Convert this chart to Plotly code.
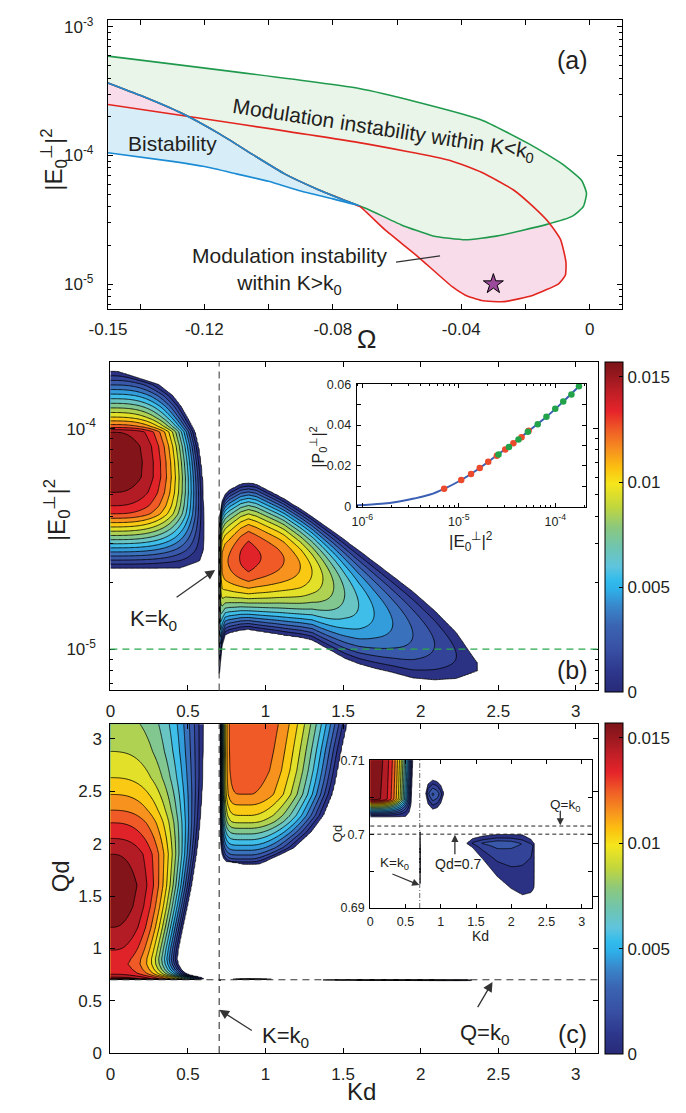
import numpy as np
import plotly.graph_objects as go
from plotly.colors import sample_colorscale

FIG_W, FIG_H = 686, 1113
FONT = "Liberation Sans, Arial, Helvetica, sans-serif"
INK = "#231f20"

# ---------------- panel (a): regions in the (Omega, |E0|^2) plane ----------------
BLUE_LOWER_OMEGA = [-0.150, -0.130, -0.120, -0.110, -0.100, -0.090, -0.080, -0.0715]
BLUE_LOWER_E = [1.05e-4, 9.0e-5, 8.2e-5, 7.2e-5, 6.3e-5, 5.3e-5, 4.6e-5, 4.05e-5]

TURN_OMEGA = [-0.150, -0.140, -0.127, -0.115, -0.105, -0.095, -0.085, -0.0739]
TURN_E = [3.67e-4, 2.94e-4, 2.13e-4, 1.46e-4, 1.02e-4, 7.2e-5, 5.5e-5, 4.25e-5]

RED_UPPER_OMEGA = [-0.150, -0.0718, -0.0437, -0.0337, -0.0236, -0.0176, -0.0126, -0.0091, -0.0074]
RED_UPPER_E = [2.49e-4, 1.26e-4, 9.2e-5, 7.4e-5, 5.37e-5, 4.0e-5, 2.99e-5, 2.23e-5, 1.48e-5]
RED_LOWER_OMEGA = [-0.0076, -0.0096, -0.0176, -0.0267, -0.0337, -0.0387, -0.0427, -0.0538, -0.0638, -0.0715]
RED_LOWER_E = [1.17e-5, 1.01e-5, 8.2e-6, 7.3e-6, 7.46e-6, 8.2e-6, 9.5e-6, 1.66e-5, 2.65e-5, 4.0e-5]

GREEN_UPPER_OMEGA = [-0.150, -0.0718, -0.0538, -0.0337, -0.0186, -0.0086, -0.0025, -0.0010]
GREEN_UPPER_E = [5.93e-4, 3.32e-4, 2.61e-4, 1.89e-4, 1.22e-4, 8.6e-5, 6.4e-5, 5.07e-5]
GREEN_LOWER_OMEGA = [-0.0020, -0.0055, -0.0136, -0.0287, -0.0387, -0.0488, -0.0588, -0.0689, -0.0739]
GREEN_LOWER_E = [4.0e-5, 3.36e-5, 2.9e-5, 2.37e-5, 2.21e-5, 2.37e-5, 2.9e-5, 3.8e-5, 4.25e-5]

STAR_OMEGA = [-0.030]
STAR_E = [1.0e-5]

# ---------------- panel (b): growth rate over (Kd, |E0|^2) ----------------
# lobe attached to Kd = 0 : amplitude on the Kd = 0 axis and zero-crossing half width
BL_LOGE = [-4.70, -4.633, -4.60, -4.55, -4.50, -4.45, -4.387, -4.35, -4.29, -4.22, -4.15,
           -4.08, -4.015, -3.99, -3.95, -3.90, -3.85, -3.80, -3.74, -3.70]
BL_AMP = [-0.005, 0.0, 0.0018, 0.0045, 0.0072, 0.0098, 0.0130, 0.0140, 0.0150, 0.0156, 0.0157,
          0.0156, 0.0150, 0.0125, 0.0101, 0.0077, 0.0053, 0.0029, 0.0, -0.003]
BL_HALFW = [0.45, 0.45, 0.575, 0.598, 0.60, 0.60, 0.599, 0.598, 0.596, 0.59, 0.58,
            0.565, 0.543, 0.525, 0.495, 0.455, 0.40, 0.31, 0.05, 0.05]

# lobe beyond K = k0 : ridge value, ridge position and upper / lower edges (log10 |E0|^2)
BR_K = [0.690, 0.700, 0.703, 0.710, 0.720, 0.740, 0.767, 0.840, 0.890, 0.940, 1.080, 1.120, 1.225,
        1.300, 1.370, 1.440, 1.510, 1.600, 1.700, 1.820, 1.950, 2.090, 2.230, 2.365, 2.500]
BR_AMP = [-0.004, 0.0, 0.005, 0.0095, 0.0112, 0.0118, 0.0121, 0.0131, 0.0136, 0.0132, 0.0123, 0.0120,
          0.0110, 0.0100, 0.0090, 0.0080, 0.0070, 0.0060, 0.0050, 0.0040, 0.0030, 0.0020, 0.0010, 0.0, -0.002]
BR_TOP = [-4.40, -4.40, -4.40, -4.377, -4.33, -4.30, -4.28, -4.253, -4.248, -4.254, -4.305, -4.32, -4.366,
          -4.40, -4.436, -4.47, -4.506, -4.553, -4.606, -4.67, -4.74, -4.826, -4.925, -5.06, -5.06]
BR_RIDGE = [-4.60, -4.60, -4.60, -4.60, -4.60, -4.60, -4.60, -4.585, -4.58, -4.582, -4.59, -4.595, -4.625,
            -4.65, -4.68, -4.715, -4.75, -4.80, -4.84, -4.885, -4.935, -4.98, -5.03, -5.08, -5.08]
BR_BOT = [-5.11, -5.11, -5.11, -5.055, -4.983, -4.935, -4.925, -4.912, -4.909, -4.915, -4.93, -4.935, -4.945,
          -4.957, -4.985, -5.012, -5.04, -5.065, -5.085, -5.105, -5.13, -5.139, -5.133, -5.10, -5.10]

# inset of (b): |P0|^2 against |E0|^2
INSET_E = [8.8e-7, 1.58e-6, 2.33e-6, 3.43e-6, 5.05e-6, 7.05e-6, 1.06e-5, 1.65e-5, 2.48e-5,
           3.68e-5, 5.2e-5, 8.1e-5, 1.21e-4, 1.76e-4]
INSET_P = [0.0007, 0.0015, 0.0025, 0.0040, 0.0060, 0.0088, 0.0131, 0.0190, 0.0252,
           0.0311, 0.0368, 0.0441, 0.0515, 0.0590]
RED_DOT_E = [7.05e-6, 1.06e-5, 1.34e-5, 1.65e-5, 2.02e-5, 2.48e-5, 3.03e-5, 3.68e-5, 4.47e-5, 5.3e-5]
RED_DOT_P = [0.0088, 0.0131, 0.0160, 0.0190, 0.0221, 0.0250, 0.0280, 0.0311, 0.0341, 0.0372]
GREEN_DOT_E = [2.58e-5, 3.31e-5, 4.16e-5, 5.2e-5, 6.58e-5, 8.1e-5, 1.0e-4, 1.21e-4, 1.47e-4, 1.76e-4]
GREEN_DOT_P = [0.0256, 0.0293, 0.0330, 0.0367, 0.0404, 0.0441, 0.0480, 0.0515, 0.0550, 0.0590]

E_MARK = 1.0e-5          # |E0|^2 of the star in (a) and of panel (c)
K0D = 0.7011             # k0 d
QD_CUT = 0.700

# ---------------- panel (c): growth rate over (Kd, Qd) ----------------
CL_Q = [0.690, 0.7024, 0.7030, 0.7040, 0.7047, 0.710, 0.720, 0.740, 0.760, 0.800, 0.850, 0.900,
        1.000, 1.200, 1.400, 1.600, 1.900, 2.050, 2.200, 2.320, 2.470, 2.630, 2.880, 3.200]
CL_AMP = [-0.004, 0.0, 0.0040, 0.0105, 0.0153, 0.0155, 0.0152, 0.0144, 0.0138, 0.0135, 0.0133, 0.0135,
          0.0141, 0.0150, 0.0155, 0.0157, 0.0150, 0.0140, 0.0130, 0.0120, 0.0110, 0.0100, 0.0090, 0.0082]
CL_HALFW = [0.50, 0.50, 0.55, 0.575, 0.58, 0.60, 0.585, 0.52, 0.485, 0.455, 0.437, 0.429,
            0.4375, 0.465, 0.494, 0.521, 0.553, 0.565, 0.575, 0.581, 0.588, 0.593, 0.596, 0.597]

CR_Q = [1.70, 1.805, 1.83, 1.86, 1.90, 1.96, 2.00, 2.07, 2.11, 2.21, 2.27, 2.47, 2.58, 2.70, 2.90, 3.20]
CR_AMP = [-0.003, 0.0, 0.0012, 0.0022, 0.0032, 0.0045, 0.0053, 0.0066, 0.0073, 0.0092, 0.0100,
          0.0120, 0.0123, 0.0126, 0.0128, 0.0130]
CR_LEFT = [0.87, 0.85, 0.746, 0.730, 0.720, 0.714, 0.712, 0.710, 0.709, 0.709, 0.708, 0.708, 0.708, 0.708, 0.708, 0.708]
CR_PEAK = [0.90, 0.90, 0.90, 0.90, 0.90, 0.90, 0.90, 0.90, 0.90, 0.90, 0.90, 0.90, 0.90, 0.905, 0.91, 0.92]
CR_RIGHT = [0.95, 0.96, 1.00, 1.04, 1.10, 1.18, 1.21, 1.26, 1.29, 1.34, 1.37, 1.425, 1.444, 1.46, 1.485, 1.53]

SB_K = [0.760, 0.785, 0.820, 0.886, 0.950, 1.000, 1.038, 1.060]
SB_AMP = [-0.001, 0.0, 0.0018, 0.0032, 0.0026, 0.0014, 0.0, -0.001]
SB_TOP = [0.7055, 0.7055, 0.7068, 0.7073, 0.7071, 0.7066, 0.7057, 0.7057]
SB_MID = [0.7055, 0.7055, 0.7055, 0.7054, 0.7054, 0.7054, 0.7055, 0.7055]
SB_BOT = [0.7055, 0.7055, 0.7041, 0.7034, 0.7036, 0.7042, 0.7053, 0.7053]

BB_K = [1.300, 1.370, 1.450, 1.600, 1.800, 2.000, 2.160, 2.280, 2.310, 2.325, 2.400]
BB_AMP = [-0.001, 0.0, 0.0012, 0.0022, 0.0027, 0.0025, 0.0020, 0.0015, 0.0010, 0.0, -0.001]
BB_TOP = [0.6988, 0.6988, 0.6994, 0.69975, 0.69995, 0.69995, 0.6999, 0.6993, 0.6989, 0.6988, 0.6988]
BB_MID = [0.6988, 0.6988, 0.6988, 0.6988, 0.6989, 0.6989, 0.6987, 0.6985, 0.6984, 0.6984, 0.6984]
BB_BOT = [0.6988, 0.6987, 0.6982, 0.6966, 0.6943, 0.69265, 0.6918, 0.6921, 0.6925, 0.6928, 0.6928]

SL_Q = [0.6925, 0.6933, 0.6950, 0.6980, 0.7003, 0.7010]
SL_AMP = [-0.001, 0.0, 0.0012, 0.0015, 0.0, -0.001]
SL_LEFT = [0.7025] * 6
SL_MID = [0.7060] * 6
SL_RIGHT = [0.7095] * 6

# ---------------- colour bar ----------------
CB_MAX = 0.0157
CB_POS = [0, 0.06, 0.13, 0.20, 0.26, 0.31, 0.34, 0.38, 0.44, 0.50, 0.56, 0.63, 0.68, 0.73, 0.79,
          0.85, 0.91, 0.96, 1.0]
CB_RGB = [(40, 42, 120), (45, 55, 140), (56, 80, 163), (58, 100, 178), (57, 135, 203), (46, 175, 232),
          (50, 188, 236), (95, 196, 222), (112, 197, 175), (140, 200, 125), (192, 214, 62), (245, 230, 28),
          (252, 192, 16), (247, 148, 30), (240, 96, 38), (230, 36, 42), (190, 30, 38), (150, 24, 30),
          (122, 20, 24)]
CB_TICKS = [0, 0.005, 0.01, 0.015]
LEVEL_STEP = 0.001
LEVEL_TOP = 0.015

CB_SCALE = [[p, "rgb(%d,%d,%d)" % c] for p, c in zip(CB_POS, CB_RGB)]
n_levels = int(round(LEVEL_TOP / LEVEL_STEP)) + 1
band_colors = sample_colorscale(CB_SCALE, [min(1.0, (k + 0.5) * LEVEL_STEP / CB_MAX) for k in range(n_levels)])
BAND_SCALE = [[0.0, "white"], [0.5 / n_levels, "white"]] + \
             [[(k + 1) / n_levels, band_colors[k]] for k in range(n_levels)]


def ridge(T, S, t, amp, lo, mid, hi, p_lo, p_hi):
    """Lobe whose crest value amp(t) sits at S = mid(t) and falls to zero at lo(t) / hi(t)."""
    A = np.interp(T, t, amp)
    L = np.interp(T, t, lo)
    M = np.interp(T, t, mid)
    H = np.interp(T, t, hi)
    upper = S >= M
    span = np.maximum(np.where(upper, H - M, M - L), 1e-9)
    rho = np.abs(S - M) / span
    g = 1.0 - np.where(upper, rho ** p_hi, rho ** p_lo)
    inside = (A > 0) & (g > 0)
    return np.where(inside, A * g, np.minimum(A, 0.002 * g))


def grid(*parts):
    return np.unique(np.concatenate([np.linspace(a, b, n) for a, b, n in parts]))


def field_b(K, LE):
    left = ridge(LE, K, BL_LOGE, BL_AMP, [-w for w in BL_HALFW], [0.0] * len(BL_LOGE), BL_HALFW, 3.0, 3.0)
    right = ridge(K, LE, BR_K, BR_AMP, BR_BOT, BR_RIDGE, BR_TOP, 2.0, 2.0)
    return np.maximum(left, right)


def field_c(K, Q):
    parts = [
        ridge(Q, K, CL_Q, CL_AMP, [-w for w in CL_HALFW], [0.0] * len(CL_Q), CL_HALFW, 2.8, 2.8),
        ridge(Q, K, CR_Q, CR_AMP, CR_LEFT, CR_PEAK, CR_RIGHT, 8.0, 2.0),
        ridge(K, Q, SB_K, SB_AMP, SB_BOT, SB_MID, SB_TOP, 1.2, 1.2),
        ridge(K, Q, BB_K, BB_AMP, BB_BOT, BB_MID, BB_TOP, 0.8, 0.8),
        ridge(Q, K, SL_Q, SL_AMP, SL_LEFT, SL_MID, SL_RIGHT, 1.0, 1.0),
    ]
    return np.maximum.reduce(parts)


# sampling grids (refined around the K = k0 wall and the Qd = 0.7 edge)
kb = grid((0, 0.69, 90), (0.69, 0.76, 90), (0.76, np.pi, 240))
leb = np.linspace(-5.25, -3.65, 330)
KB, LEB = np.meshgrid(kb, leb)
zb = np.round(field_b(KB, LEB), 6)

kc = grid((0, 0.69, 110), (0.69, 0.76, 60), (0.76, 3.15, 240))
qc = grid((0, 0.685, 8), (0.685, 0.715, 110), (0.715, 3.15, 250))
KC, QC = np.meshgrid(kc, qc)
zc = np.round(field_c(KC, QC), 6)

ki = grid((0, 0.69, 140), (0.69, 0.715, 60), (0.715, 3.15, 400))
qi = np.linspace(0.6895, 0.7105, 180)
KI, QI = np.meshgrid(ki, qi)
zi = np.round(field_c(KI, QI), 6)

contour_style = dict(
    contours=dict(start=0, end=LEVEL_TOP, size=LEVEL_STEP, coloring="fill", showlines=True),
    colorscale=BAND_SCALE, showscale=False,
    line=dict(color="black", width=0.8, smoothing=1),
    hoverinfo="skip",
)

fig = go.Figure()

# ---- panel (a) ----
C_GREEN, C_RED, C_BLUE = "#1f9a4c", "#e2261f", "#1b8bd4"
F_GREEN, F_PINK, F_BLUE = "#eaf5ea", "#f9dcea", "#d7eef8"

turn_back_w = TURN_OMEGA[::-1]
turn_back_e = TURN_E[::-1]

blue_w = BLUE_LOWER_OMEGA + turn_back_w
blue_e = BLUE_LOWER_E + turn_back_e
red_w = RED_UPPER_OMEGA + RED_LOWER_OMEGA + turn_back_w
red_e = RED_UPPER_E + RED_LOWER_E + turn_back_e
green_w = GREEN_UPPER_OMEGA + GREEN_LOWER_OMEGA + turn_back_w
green_e = GREEN_UPPER_E + GREEN_LOWER_E + turn_back_e

for w, e, fc in [(blue_w, blue_e, F_BLUE), (red_w, red_e, F_PINK), (green_w, green_e, F_GREEN)]:
    fig.add_trace(go.Scatter(x=w, y=e, xaxis="x", yaxis="y", fill="toself", fillcolor=fc,
                             mode="none", hoverinfo="skip", showlegend=False))
for w, e, lc in [(green_w, green_e, C_GREEN), (red_w, red_e, C_RED), (blue_w, blue_e, C_BLUE)]:
    fig.add_trace(go.Scatter(x=w, y=e, xaxis="x", yaxis="y", mode="lines",
                             line=dict(color=lc, width=1.6, shape="spline", smoothing=0.5),
                             hoverinfo="skip", showlegend=False))
fig.add_trace(go.Scatter(x=STAR_OMEGA, y=STAR_E, xaxis="x", yaxis="y", mode="markers",
                         marker=dict(symbol="star", size=15, color="#9b4a9c", line=dict(color="black", width=1)),
                         hoverinfo="skip", showlegend=False))

# ---- panel (b) ----
fig.add_trace(go.Contour(x=kb, y=10 ** leb, z=zb, xaxis="x2", yaxis="y2", **contour_style))

# ---- panel (c) ----
fig.add_trace(go.Contour(x=kc, y=qc, z=zc, xaxis="x3", yaxis="y3", **contour_style))

# ---- inset of (b) ----
fig.add_trace(go.Scatter(x=INSET_E, y=INSET_P, xaxis="x4", yaxis="y4", mode="lines",
                         line=dict(color="#3b5fb3", width=2, shape="spline"), hoverinfo="skip", showlegend=False))
fig.add_trace(go.Scatter(x=RED_DOT_E, y=RED_DOT_P, xaxis="x4", yaxis="y4", mode="markers",
                         marker=dict(color="#ec4a2c", size=6.5), hoverinfo="skip", showlegend=False))
fig.add_trace(go.Scatter(x=GREEN_DOT_E, y=GREEN_DOT_P, xaxis="x4", yaxis="y4", mode="markers",
                         marker=dict(color="#22a34a", size=6.5), hoverinfo="skip", showlegend=False))

# ---- inset of (c) ----
fig.add_trace(go.Contour(x=ki, y=qi, z=zi, xaxis="x5", yaxis="y5", **contour_style))


# ---- colour bars ----
def colorbar_trace(xa, ya, top_px, bottom_px):
    yc = 1 - (top_px + bottom_px) / 2 / FIG_H
    ln = (bottom_px - top_px) / FIG_H
    return go.Scatter(
        x=[None], y=[None], xaxis=xa, yaxis=ya, mode="markers", hoverinfo="skip", showlegend=False,
        marker=dict(color=[0], cmin=0, cmax=CB_MAX, colorscale=CB_SCALE, showscale=True,
                    colorbar=dict(x=603 / FIG_W, xanchor="left", y=yc, yanchor="middle", len=ln,
                                  lenmode="fraction", thickness=18, xpad=0, ypad=0,
                                  outlinewidth=1, outlinecolor="black",
                                  tickvals=CB_TICKS, ticktext=["0", "0.005", "0.01", "0.015"],
                                  ticks="inside", ticklen=4, tickcolor="black",
                                  tickfont=dict(size=17, family=FONT, color=INK))))


fig.add_trace(colorbar_trace("x2", "y2", 360.7, 696))
fig.add_trace(colorbar_trace("x3", "y3", 727.3, 1063.3))


# ---------------- axes ----------------
def dom_x(a, b):
    return [a / FIG_W, b / FIG_W]


def dom_y(top, bottom):
    return [1 - bottom / FIG_H, 1 - top / FIG_H]


def ax(**kw):
    base = dict(showline=True, linecolor="black", linewidth=1.2, mirror="ticks", ticks="inside",
                ticklen=5, tickwidth=1, tickcolor="black", showgrid=False, zeroline=False,
                tickfont=dict(size=17, family=FONT, color=INK))
    base.update(kw)
    return base


def log_minor(lo, hi):
    return [k * 10.0 ** e for e in range(-7, -2) for k in range(2, 10) if lo <= k * 10.0 ** e <= hi]


kd_ticks = [0, 0.5, 1, 1.5, 2, 2.5, 3]
kd_text = ["0", "0.5", "1", "1.5", "2", "2.5", "3"]

fig.update_layout(
    width=FIG_W, height=FIG_H, margin=dict(l=0, r=0, t=0, b=0),
    paper_bgcolor="white", plot_bgcolor="white", showlegend=False,
    font=dict(family=FONT, color=INK, size=17),
    xaxis=ax(domain=dom_x(91.5, 620), anchor="y", range=[-0.15, 0.01],
             tickvals=[-0.15, -0.12, -0.08, -0.04, 0], ticktext=["-0.15", "-0.12", "-0.08", "-0.04", "0"],
             minor=dict(tickvals=[-0.14, -0.10, -0.06, -0.02], ticks="inside", ticklen=5, tickcolor="black"),
             ticklabelstandoff=4),
    yaxis=ax(domain=dom_y(13.3, 306.7), anchor="x", type="log", range=[np.log10(6.4e-6), np.log10(1.13e-3)],
             tickvals=[1e-5, 1e-4, 1e-3], ticktext=["10<sup>-5</sup>", "10<sup>-4</sup>", "10<sup>-3</sup>"],
             minor=dict(tickvals=log_minor(6.4e-6, 1.13e-3), ticks="inside", ticklen=3, tickcolor="black"),
             ticklabelstandoff=10),
    xaxis2=ax(domain=dom_x(94, 595.3), anchor="y2", range=[0, np.pi], tickvals=kd_ticks, ticktext=kd_text,
              ticklabelstandoff=5),
    yaxis2=ax(domain=dom_y(360.7, 694), anchor="x2", type="log", range=[np.log10(6.5e-6), np.log10(2.0e-4)],
              tickvals=[1e-5, 1e-4], ticktext=["10<sup>-5</sup>", "10<sup>-4</sup>"],
              minor=dict(tickvals=log_minor(6.5e-6, 2.0e-4), ticks="inside", ticklen=3, tickcolor="black"),
              ticklabelstandoff=10),
    xaxis3=ax(domain=dom_x(94, 595.3), anchor="y3", range=[0, np.pi], tickvals=kd_ticks, ticktext=kd_text,
              ticklabelstandoff=5),
    yaxis3=ax(domain=dom_y(728.3, 1062.3), anchor="x3", range=[0, np.pi], tickvals=kd_ticks, ticktext=kd_text,
              ticklabelstandoff=4),
    xaxis4=ax(domain=dom_x(347.3, 582.7), anchor="y4", type="log", range=[np.log10(8.75e-7), np.log10(2.06e-4)],
              tickvals=[1e-6, 1e-5, 1e-4], ticktext=["10<sup>-6</sup>", "10<sup>-5</sup>", "10<sup>-4</sup>"],
              ticklen=4, tickfont=dict(size=12.5, family=FONT, color=INK),
              minor=dict(tickvals=log_minor(8.75e-7, 2.06e-4), ticks="inside", ticklen=2, tickcolor="black"),
              ticklabelstandoff=3, linewidth=1),
    yaxis4=ax(domain=dom_y(382.7, 507.5), anchor="x4", range=[0, 0.0602],
              tickvals=[0, 0.02, 0.04, 0.06], ticktext=["0", "0.02", "0.04", "0.06"], ticklen=4,
              minor=dict(tickvals=[0.01, 0.03, 0.05], ticks="inside", ticklen=4, tickcolor="black"),
              tickfont=dict(size=12.5, family=FONT, color=INK), ticklabelstandoff=2, linewidth=1),
    xaxis5=ax(domain=dom_x(361.3, 589), anchor="y5", range=[0, np.pi], tickvals=kd_ticks, ticktext=kd_text,
              ticklen=4, tickfont=dict(size=12.5, family=FONT, color=INK), ticklabelstandoff=2, linewidth=1),
    yaxis5=ax(domain=dom_y(765, 915), anchor="x5", range=[0.69, 0.71],
              tickvals=[0.69, 0.695, 0.70, 0.705, 0.71], ticktext=["0.69", "", "0.7", "", "0.71"], ticklen=4,
              tickfont=dict(size=12.5, family=FONT, color=INK), ticklabelstandoff=2, linewidth=1),
)

# ---------------- reference lines ----------------
DASH = "7px,5px"
shapes = [
    dict(type="line", xref="x2", yref="y2 domain", x0=K0D, x1=K0D, y0=0, y1=1,
         line=dict(color="#555", width=1.2, dash=DASH)),
    dict(type="line", xref="x2 domain", yref="y2", x0=0, x1=1, y0=E_MARK, y1=E_MARK,
         line=dict(color="#2aa84a", width=1.2, dash=DASH)),
    dict(type="line", xref="x3", yref="y3 domain", x0=K0D, x1=K0D, y0=0, y1=1,
         line=dict(color="#333", width=1.1, dash=DASH)),
    dict(type="line", xref="x3 domain", yref="y3", x0=0, x1=1, y0=K0D, y1=K0D,
         line=dict(color="#333", width=1.1, dash=DASH)),
    dict(type="line", xref="x5", yref="y5 domain", x0=K0D, x1=K0D, y0=0, y1=1,
         line=dict(color="#777", width=1.1, dash="5px,2px,1px,2px")),
    dict(type="line", xref="x5 domain", yref="y5", x0=0, x1=1, y0=K0D, y1=K0D,
         line=dict(color="#222", width=1, dash="4px,3px")),
    dict(type="line", xref="x5 domain", yref="y5", x0=0, x1=1, y0=QD_CUT, y1=QD_CUT,
         line=dict(color="#222", width=1, dash="4px,3px")),
    dict(type="line", xref="x", yref="y", x0=-0.0603, x1=-0.0466, y0=1.48e-5, y1=1.66e-5,
         line=dict(color="#333", width=1.2)),
]
fig.update_layout(shapes=shapes)


# ---------------- text ----------------
def paper(x, y):
    return x / FIG_W, 1 - y / FIG_H


def label(text, x, y, size, angle=0):
    px, py = paper(x, y)
    return dict(text=text, x=px, y=py, xref="paper", yref="paper", showarrow=False, textangle=angle,
                xanchor="center", yanchor="middle", font=dict(size=size, family=FONT, color=INK))


def arrow(tail, tip, size=1.5):
    px, py = paper(*tip)
    return dict(text="", x=px, y=py, xref="paper", yref="paper", showarrow=True,
                ax=tail[0] - tip[0], ay=tail[1] - tip[1], axref="pixel", ayref="pixel",
                arrowhead=2, arrowsize=size, arrowwidth=1.3, arrowcolor="#333")


E_LABEL = "|E<sub>0</sub><sup>\u22a5</sup>|<sup>2</sup>"
P_LABEL = "|P<sub>0</sub><sup>\u22a5</sup>|<sup>2</sup>"
annotations = [
    label("(a)", 569, 54, 25),
    label("Modulation instability within K&lt;k<sub>0</sub>", 375, 125, 21, angle=8.7),
    label("Bistability", 158, 139, 21),
    label("Modulation instability<br>within K&gt;k<sub>0</sub>", 278, 268, 21),
    label("\u03a9", 357, 337, 26),
    label(E_LABEL, 36, 155, 24, angle=-90),
    label(E_LABEL, 39, 511, 24, angle=-90),
    label("K=k<sub>0</sub>", 138.5, 623, 22),
    arrow((161.7, 600), (201.7, 571.7)),
    label("(b)", 569.3, 673, 25),
    label(P_LABEL, 308, 447, 16, angle=-90),
    label(E_LABEL, 464.5, 543, 17),
    label("Qd", 43, 883, 24, angle=-90),
    label("Kd", 352, 1101, 24),
    label("K=k<sub>0</sub>", 274, 1046, 22),
    arrow((240, 1040), (206, 1018.3)),
    label("Q=k<sub>0</sub>", 479, 1043, 22),
    arrow((471.3, 1016.7), (487, 990)),
    label("(c)", 569.7, 1042.5, 25),
    label("Q=k<sub>0</sub>", 561.5, 811, 13.5),
    arrow((556.7, 815), (556.7, 831), size=1.1),
    label("Qd=0.7", 451.7, 870, 14),
    arrow((448.3, 861.7), (448.3, 840.7), size=1.1),
    label("K=k<sub>0</sub>", 386, 869.5, 13.5),
    arrow((383.3, 880), (411.7, 891.7), size=1.1),
    label("Kd", 474.7, 943, 14),
    label("Qd", 327, 839, 13, angle=-90),
]
fig.update_layout(annotations=annotations)

fig.write_html("out.html")
